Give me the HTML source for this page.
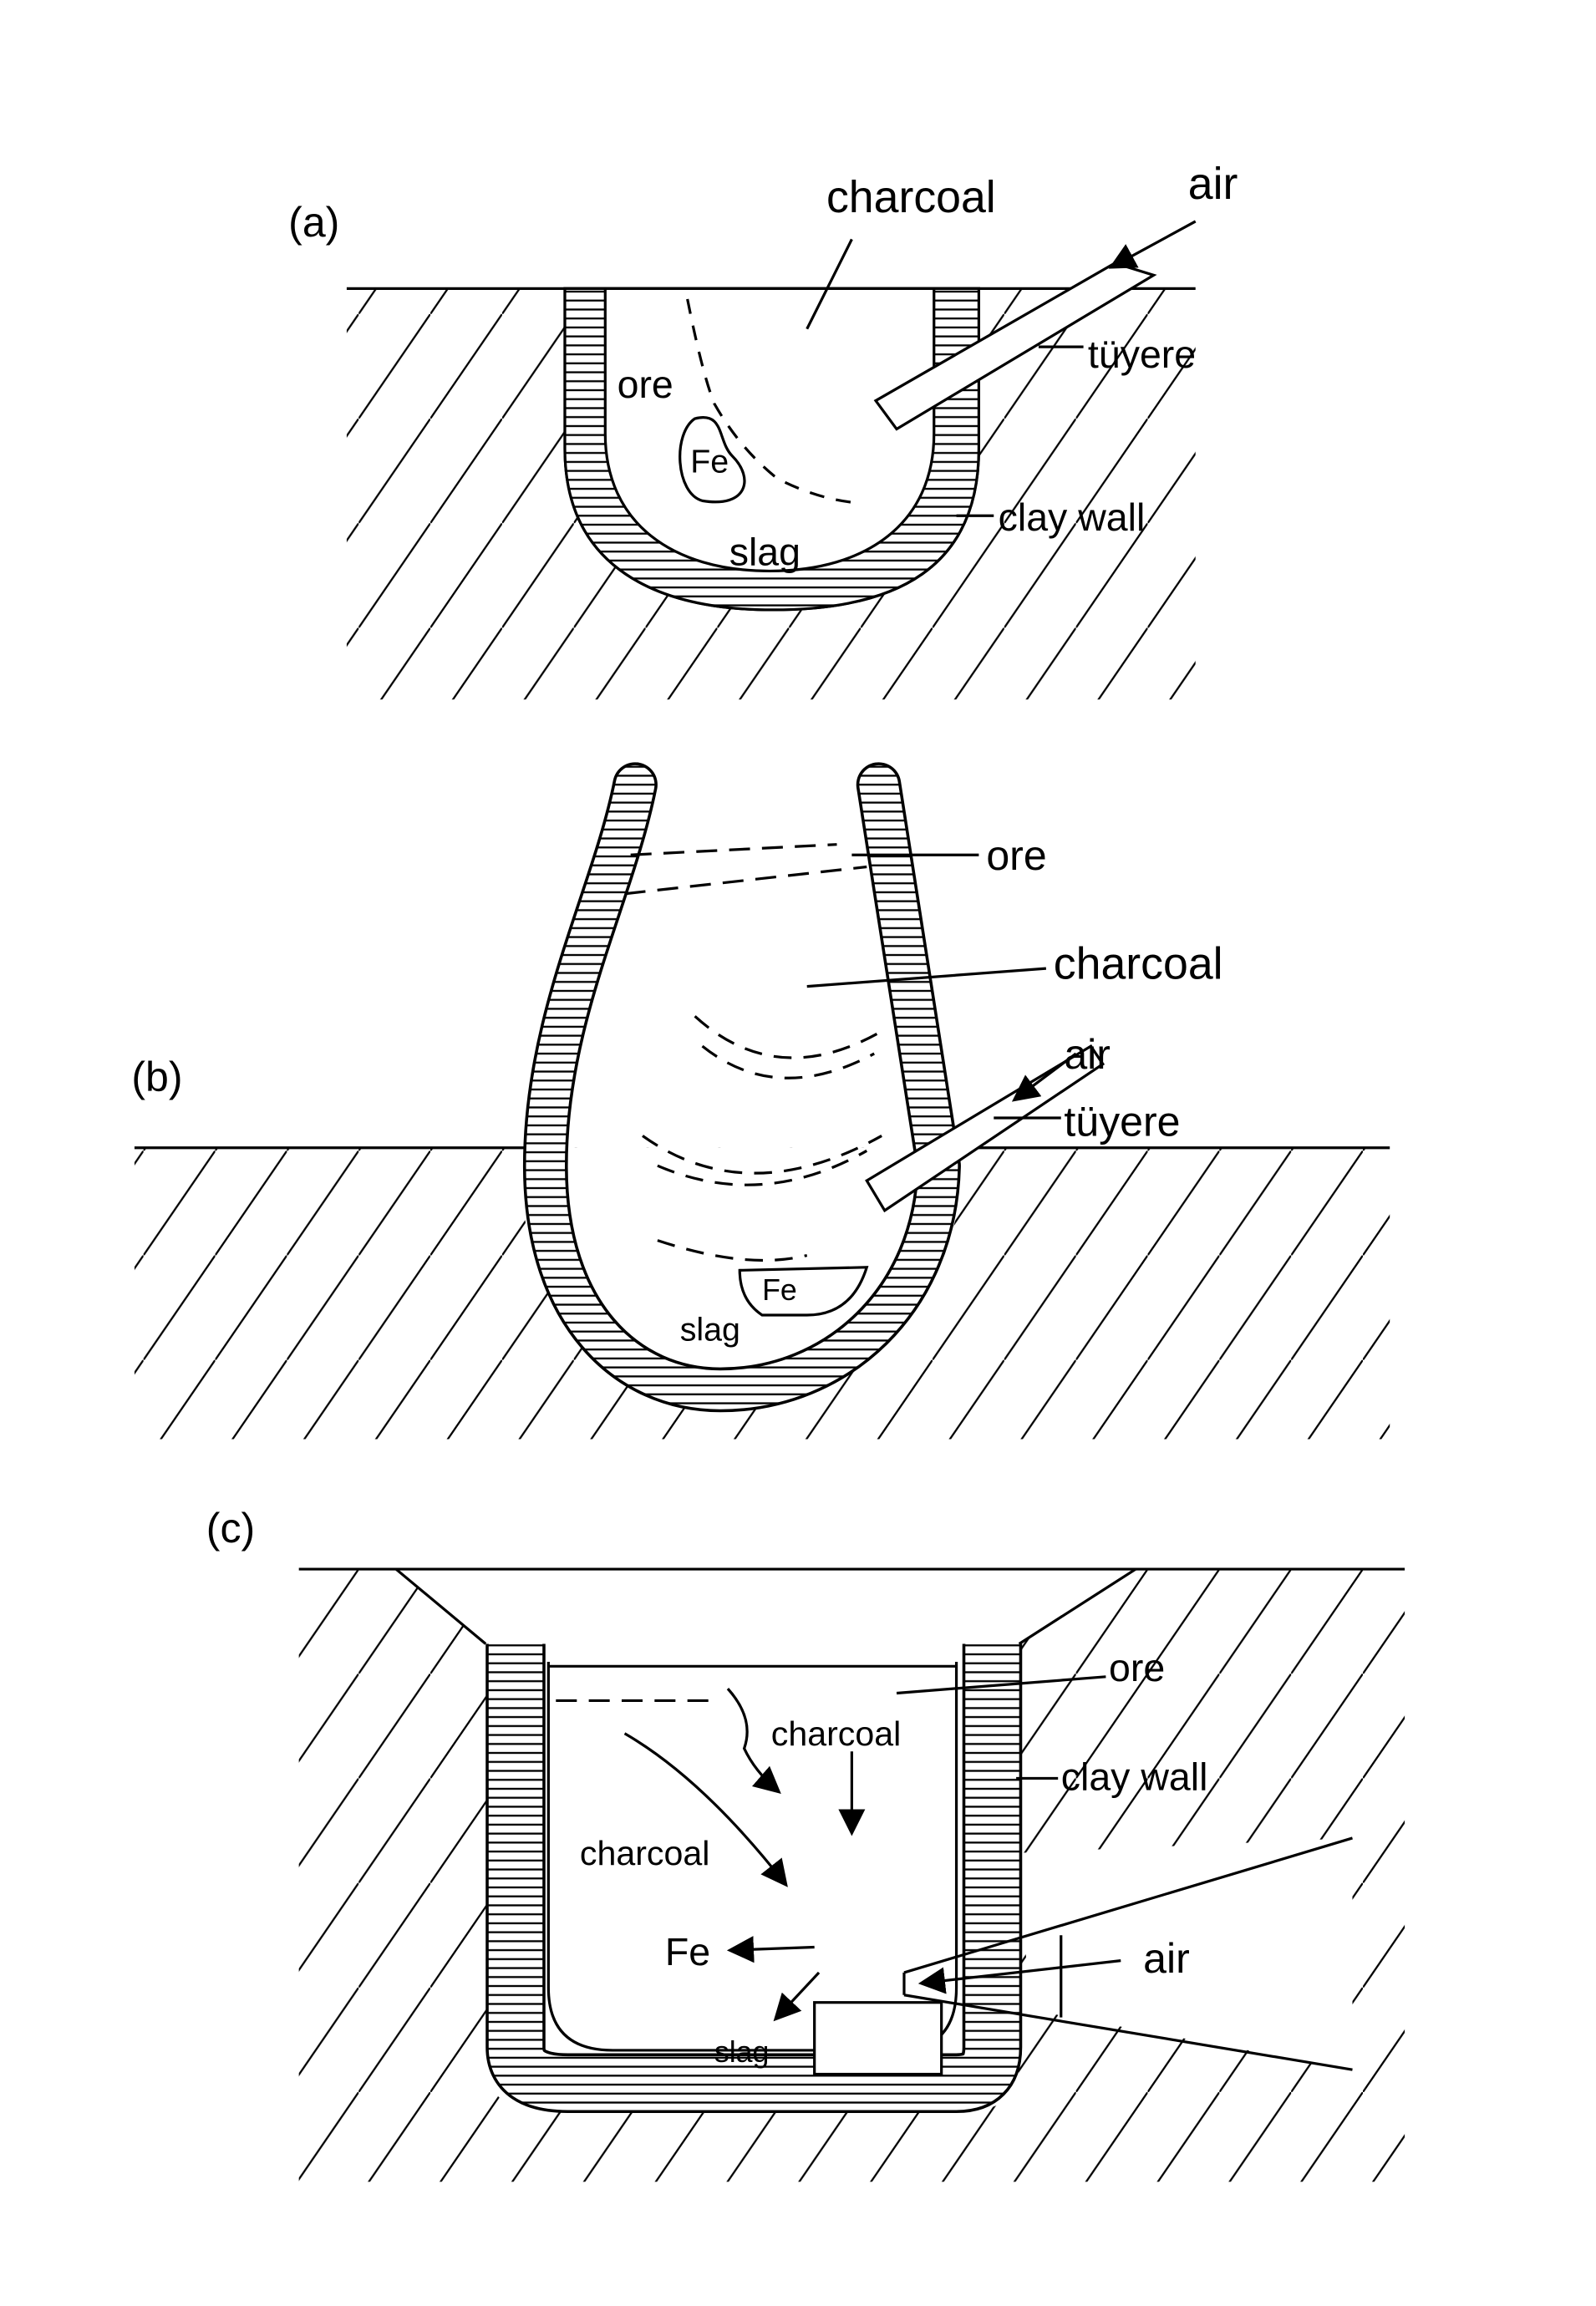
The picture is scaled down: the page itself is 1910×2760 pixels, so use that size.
<!DOCTYPE html>
<html><head><meta charset="utf-8"><style>html,body{margin:0;padding:0;background:#fff}svg{display:block}</style></head>
<body>
<svg width="1910" height="2760" viewBox="0 0 1068 1543" xmlns="http://www.w3.org/2000/svg" font-family="Liberation Sans, sans-serif" font-size="26">
<defs>
<pattern id="st" patternUnits="userSpaceOnUse" width="8" height="6"><rect width="8" height="6" fill="#fff"/><line x1="0" y1="3" x2="8" y2="3" stroke="#000" stroke-width="1.3"/></pattern>
<pattern id="hx" patternUnits="userSpaceOnUse" width="48" height="70"><line x1="0" y1="70" x2="48" y2="0" stroke="#000" stroke-width="1.3"/></pattern>
<marker id="ar" markerWidth="10" markerHeight="10" refX="8" refY="5" orient="auto"><path d="M0,0 L10,5 L0,10 Z" fill="#000"/></marker>
</defs>
<g fill="none" stroke="#000" stroke-width="1.8">
<!-- (a) -->
<rect x="232" y="193" width="568" height="275" fill="url(#hx)" stroke="none"/>
<path d="M378,193 L378,300 C378,380 440,408 517,408 C600,408 655,380 655,300 L655,193 Z" fill="#fff"/>
<path fill-rule="evenodd" fill="url(#st)" d="M378,193 L378,300 C378,380 440,408 517,408 C600,408 655,380 655,300 L655,193 Z M405,193 L405,290 C405,350 450,382 515,382 C580,382 625,350 625,290 L625,193 Z"/>
<rect x="406" y="194" width="218" height="30" fill="#fff" stroke="none"/>
<line x1="232" y1="193" x2="800" y2="193"/>
<path d="M586,268 L746,176 L772,184 L600,287 Z" fill="#fff"/>
<line x1="800" y1="148" x2="745" y2="178" marker-end="url(#ar)"/>
<path d="M460,200 Q470,250 478,270 Q495,300 520,320 Q545,333 570,336" stroke-dasharray="10,8"/>
<path d="M465,280 C450,290 452,330 470,335 C500,340 505,320 490,305 C480,295 485,275 465,280 Z"/>
<line x1="540" y1="220" x2="570" y2="160"/>
<line x1="695" y1="232" x2="725" y2="232"/>
<line x1="640" y1="345" x2="665" y2="345"/>
<!-- (b) -->
<rect x="90" y="768" width="840" height="195" fill="url(#hx)" stroke="none"/>
<path d="M350,768 C340,880 420,945 480,945 C560,945 645,880 645,768 Z" fill="#fff" stroke="none"/>
<path d="M425,525 C410,600 365,680 365,780 C365,880 420,930 482,930 C560,930 626,870 628,780 L588,525" stroke="#000" stroke-width="30" stroke-linecap="round" stroke-linejoin="round"/>
<path d="M425,525 C410,600 365,680 365,780 C365,880 420,930 482,930 C560,930 626,870 628,780 L588,525" stroke="url(#st)" stroke-width="26" stroke-linecap="round" stroke-linejoin="round"/>
<line x1="90" y1="768" x2="352" y2="768"/><line x1="642" y1="768" x2="930" y2="768"/>
<path d="M580,790 L730,700 L738,712 L592,810 Z" fill="#fff"/>
<line x1="720" y1="705" x2="680" y2="735" marker-end="url(#ar)"/>
<path d="M422,572 L560,565 M418,598 L580,580" stroke-dasharray="14,8"/>
<path d="M465,680 Q520,730 590,690 M470,700 Q520,740 585,705 M430,760 Q500,810 590,760 M440,780 Q510,810 580,770 M440,830 Q500,850 540,840" stroke-dasharray="12,8"/>
<path d="M495,850 L580,848 Q570,880 540,880 L510,880 Q495,870 495,850 Z"/>
<line x1="570" y1="572" x2="655" y2="572"/>
<line x1="540" y1="660" x2="700" y2="648"/>
<line x1="665" y1="748" x2="710" y2="748"/>
<!-- (c) -->
<rect x="200" y="1050" width="740" height="410" fill="url(#hx)" stroke="none"/>
<path d="M265,1050 L760,1050 L682,1100 L682,1380 Q682,1412 650,1412 L360,1412 Q326,1412 326,1380 L326,1100 Z" fill="#fff" stroke="none"/>
<path d="M680,1240 L905,1230 L905,1385 L690,1345 Z" fill="#fff" stroke="none"/>
<path d="M345,1100 L345,1370 Q345,1394 380,1394 L640,1394 Q664,1394 664,1370 L664,1100" stroke="#000" stroke-width="40" stroke-linejoin="round"/>
<path d="M345,1100 L345,1370 Q345,1394 380,1394 L640,1394 Q664,1394 664,1370 L664,1100" stroke="url(#st)" stroke-width="36" stroke-linejoin="round"/>
<path d="M367,1112 L367,1330 Q367,1372 410,1372 L600,1372 Q640,1372 640,1330 L640,1112" fill="#fff"/>
<line x1="367" y1="1115" x2="640" y2="1115"/>
<line x1="200" y1="1050" x2="940" y2="1050"/>
<line x1="265" y1="1050" x2="325" y2="1100"/><line x1="760" y1="1050" x2="682" y2="1100"/>
<path d="M605,1320 L905,1230 M605,1335 L905,1385 M605,1320 L605,1335 M710,1295 L710,1350"/>
<line x1="750" y1="1312" x2="618" y2="1327" marker-end="url(#ar)"/>
<rect x="545" y="1340" width="85" height="48" fill="#fff"/>
<line x1="372" y1="1138" x2="480" y2="1138" stroke-dasharray="14,8"/>
<line x1="600" y1="1133" x2="740" y2="1122"/>
<line x1="680" y1="1190" x2="708" y2="1190"/>
<path d="M487,1130 Q505,1150 498,1170 Q505,1185 520,1198" marker-end="url(#ar)"/>
<line x1="570" y1="1172" x2="570" y2="1225" marker-end="url(#ar)"/>
<path d="M418,1160 Q470,1190 525,1260" marker-end="url(#ar)"/>
<line x1="545" y1="1303" x2="490" y2="1305" marker-end="url(#ar)"/>
<line x1="548" y1="1320" x2="520" y2="1350" marker-end="url(#ar)"/>
</g>
<g fill="#000" stroke="none">
<text x="193" y="158" font-size="28">(a)</text>
<text x="553" y="142" font-size="30">charcoal</text>
<text x="795" y="133" font-size="30">air</text>
<text x="413" y="266">ore</text>
<text x="462" y="316" font-size="22">Fe</text>
<text x="728" y="246">tüyere</text>
<text x="668" y="355">clay wall</text>
<text x="488" y="378">slag</text>
<text x="660" y="582" font-size="28">ore</text>
<text x="705" y="655" font-size="30">charcoal</text>
<text x="712" y="715" font-size="28">air</text>
<text x="712" y="760" font-size="28">tüyere</text>
<text x="88" y="730" font-size="28">(b)</text>
<text x="510" y="870" font-size="20">Fe</text>
<text x="455" y="897" font-size="22">slag</text>
<text x="138" y="1032" font-size="28">(c)</text>
<text x="742" y="1125">ore</text>
<text x="516" y="1168" font-size="23">charcoal</text>
<text x="710" y="1198">clay wall</text>
<text x="388" y="1248" font-size="23">charcoal</text>
<text x="445" y="1315">Fe</text>
<text x="765" y="1320" font-size="28">air</text>
<text x="478" y="1380" font-size="20">slag</text>
</g>
</svg>
</body></html>
